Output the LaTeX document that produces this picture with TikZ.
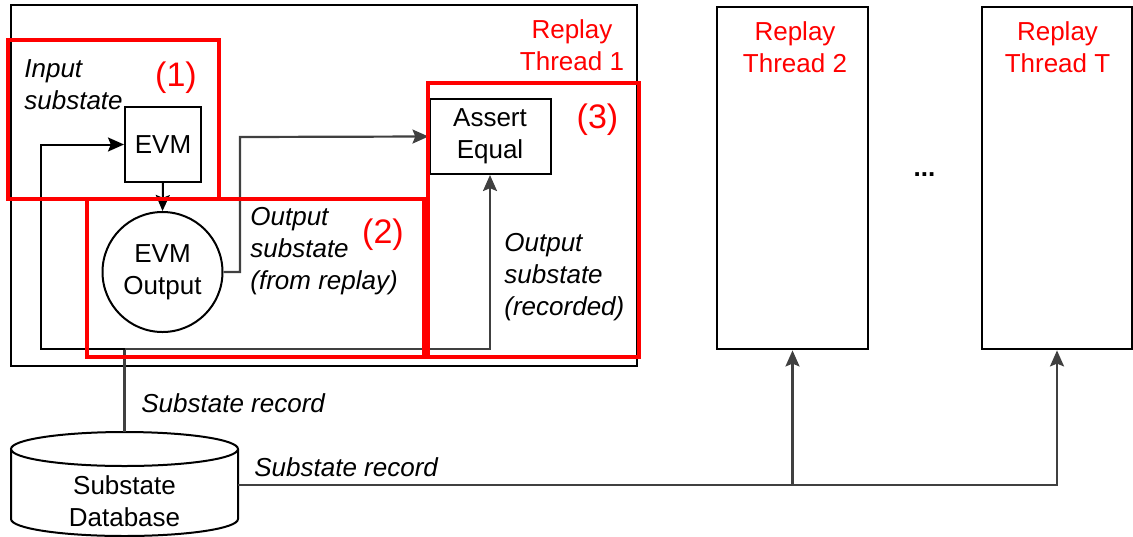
\documentclass[tikz,border=0pt]{standalone}
\usepackage{fontspec}
\setmainfont{Liberation Sans}
\usetikzlibrary{arrows.meta}
\definecolor{linegray}{HTML}{404040}
\definecolor{regred}{HTML}{FF0000}

\begin{document}
\begin{tikzpicture}[x=0.5pt,y=-0.5pt,
  txt/.style={inner sep=0pt, font=\fontsize{13}{16}\selectfont},
  itxt/.style={inner sep=0pt, font=\fontsize{13}{16}\selectfont\itshape, align=left},
  redtxt/.style={inner sep=0pt, text=regred, font=\fontsize{13}{16}\selectfont, align=center},
  regnum/.style={inner sep=0pt, text=regred, font=\fontsize{17}{20}\selectfont},
  blkbox/.style={draw=black, line width=1pt, inner sep=0pt, font=\fontsize{13}{16}\selectfont, align=center},
  thrbox/.style={draw=black, line width=1.4pt, inner sep=0pt},
  region/.style={draw=regred, line width=1.6pt, inner sep=0pt},
  blk/.style={draw=black, line width=1pt},
  gry/.style={draw=linegray, line width=1.1pt},
  arr/.style={-{Stealth[length=8pt,width=7pt,inset=1.4pt]}},
]
\useasboundingbox (0,0) rectangle (1133,536);

% replay threads
\node[thrbox, minimum width=313pt, minimum height=180.5pt] (thr1) at (324,185.5) {};
\node[thrbox, minimum width=75.5pt, minimum height=171pt] (thr2) at (792.5,178) {};
\node[thrbox, minimum width=75pt, minimum height=171pt] (thrT) at (1057,178) {};

\node[redtxt, anchor=north] (lbl1) at (572,19) {Replay\\Thread 1};
\node[redtxt, anchor=north] (lbl2) at (795,21) {Replay\\Thread 2};
\node[redtxt, anchor=north] (lblT) at (1057.5,21) {Replay\\Thread T};
\node[inner sep=0pt, font=\fontsize{13}{16}\selectfont\bfseries] (dots) at (924.5,175) {...};

% components of thread 1
\node[blkbox, minimum width=38pt, minimum height=37.5pt] (evm) at (163,144.5) {EVM};
\node[blkbox, circle, minimum size=60pt] (eout) at (162.5,272) {EVM\\Output};
\node[blkbox, minimum width=60.5pt, minimum height=37.5pt] (asrt) at (490,136.5) {Assert\\Equal};

% substate database (cylinder)
\node[inner sep=0pt, minimum width=113.5pt, minimum height=52pt] (db) at (124.5,484) {};
\draw[blk] (11,449) -- (11,519)
  arc[start angle=180, end angle=360, x radius=56.75pt, y radius=8.5pt] -- (238,449);
\draw[blk] (124.5,449) ellipse [x radius=56.75pt, y radius=8.5pt];
\node[txt, align=center] (dbtxt) at (124.5,501) {Substate\\Database};

% connectors
\coordinate (jn) at (124.5,349);
\coordinate (lp) at (41,349);
\coordinate (bend) at (240,137);
\coordinate (dbE) at (238,485);

\draw[blk, arr] (evm.south) -- (eout.north);
\draw[gry, arr] (eout.east) -| (bend) -- (asrt.west);
\draw[gry] (db.north) -- (jn);
\draw[blk, arr] (jn) -- (lp) |- (evm.west);
\draw[gry, arr] (jn) -| (asrt.south);
\draw[gry, arr] (dbE) -| (thrT.south);
\draw[gry, arr] (thr2.south |- dbE) -- (thr2.south);

% labels
\node[itxt, anchor=north west] (inlbl) at (24,59) {Input\\substate};
\node[itxt, anchor=north west] (outlbl) at (250,207) {Output\\substate\\(from replay)};
\node[itxt, anchor=north west] (reclbl) at (504,233) {Output\\substate\\(recorded)};
\node[itxt, anchor=north west] (srec1) at (141,393) {Substate record};
\node[itxt, anchor=north west] (srec2) at (254,457) {Substate record};

% highlighted regions
\node[region, minimum width=105.5pt, minimum height=79.5pt] (reg1) at (113.5,119.5) {};
\node[region, minimum width=168.5pt, minimum height=79pt] (reg2) at (255.5,278) {};
\node[region, minimum width=105.5pt, minimum height=137pt] (reg3) at (533.5,220) {};
\node[regnum] (n1) at (176,77.5) {(1)};
\node[regnum] (n2) at (383,234.5) {(2)};
\node[regnum] (n3) at (597.5,119.5) {(3)};
\end{tikzpicture}
\end{document}
